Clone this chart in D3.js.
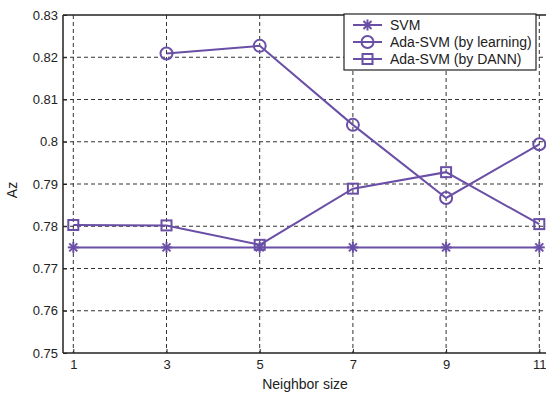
<!DOCTYPE html>
<html>
<head>
<meta charset="utf-8">
<script src="https://cdn.jsdelivr.net/npm/d3@7"></script>
<style>
  body { margin: 0; background: #fff; }
  svg { display: block; font-family: "Liberation Sans", Arial, sans-serif; }
</style>
</head>
<body>
<svg id="chart" width="546" height="397"></svg>
<script>
const neighborSizes = [1, 3, 5, 7, 9, 11];
const yTicks = [0.75, 0.76, 0.77, 0.78, 0.79, 0.8, 0.81, 0.82, 0.83];
const svmValues = [0.775, 0.775, 0.775, 0.775, 0.775, 0.775];
const learningValues = [null, 0.8209, 0.8227, 0.804, 0.7867, 0.7994];
const dannValues = [0.7803, 0.7802, 0.7756, 0.7889, 0.7928, 0.7805];
const seriesNames = ['SVM', 'Ada-SVM (by learning)', 'Ada-SVM (by DANN)'];

const color = '#6a4fa6';
const svg = d3.select('#chart');
const plotLeft = 63, plotRight = 546, plotTop = 15, plotBottom = 353;

const x = d3.scaleLinear().domain([1, 11]).range([73.3, 539.3]);
const y = d3.scaleLinear().domain([0.75, 0.83]).range([plotBottom, plotTop]);

// grid
const grid = svg.append('g').attr('stroke', '#333').attr('stroke-width', 1).attr('stroke-dasharray', '4,3');
grid.selectAll('.vg').data(neighborSizes).join('line')
  .attr('x1', d => x(d)).attr('x2', d => x(d)).attr('y1', plotTop).attr('y2', plotBottom);
grid.selectAll('.hg').data(yTicks.slice(1, -1)).join('line')
  .attr('x1', plotLeft).attr('x2', plotRight).attr('y1', d => y(d)).attr('y2', d => y(d));

// axes
const yAxis = svg.append('g').attr('transform', `translate(${plotLeft},0)`)
  .call(d3.axisLeft(y).tickValues(yTicks).tickSize(-4).tickPadding(5).tickFormat(d => String(+d.toFixed(2))));
const xAxis = svg.append('g').attr('transform', `translate(0,${plotBottom})`)
  .call(d3.axisBottom(x).tickValues(neighborSizes).tickSize(-4).tickPadding(7));
[yAxis, xAxis].forEach(a => {
  a.select('.domain').remove();
  a.selectAll('line').attr('stroke', '#222');
  a.selectAll('text').attr('font-size', 13).attr('fill', '#222')
    .attr('font-family', '"Liberation Sans", Arial, sans-serif');
});
svg.append('line').attr('x1', plotLeft).attr('x2', plotLeft).attr('y1', plotTop).attr('y2', plotBottom).attr('stroke', '#222').attr('stroke-width', 1.5);
svg.append('line').attr('x1', plotLeft).attr('x2', plotRight).attr('y1', plotBottom).attr('y2', plotBottom).attr('stroke', '#222').attr('stroke-width', 1.5);
svg.append('line').attr('x1', plotLeft).attr('x2', plotRight).attr('y1', plotTop).attr('y2', plotTop).attr('stroke', '#222').attr('stroke-width', 1.5);

svg.append('text').attr('x', 305).attr('y', 389).attr('text-anchor', 'middle')
  .attr('font-size', 14).attr('fill', '#222').text('Neighbor size');
svg.append('text').attr('transform', 'translate(17,190) rotate(-90)').attr('text-anchor', 'middle')
  .attr('font-size', 14).attr('fill', '#222').text('Az');

// markers
function star(g, cx, cy) {
  const r = 5.5;
  const p = g.append('g').attr('stroke', color).attr('stroke-width', 2);
  p.append('line').attr('x1', cx - r).attr('x2', cx + r).attr('y1', cy).attr('y2', cy);
  p.append('line').attr('x1', cx).attr('x2', cx).attr('y1', cy - r).attr('y2', cy + r);
  p.append('line').attr('x1', cx - 4).attr('x2', cx + 4).attr('y1', cy - 4).attr('y2', cy + 4);
  p.append('line').attr('x1', cx - 4).attr('x2', cx + 4).attr('y1', cy + 4).attr('y2', cy - 4);
}
function circle(g, cx, cy) {
  g.append('circle').attr('cx', cx).attr('cy', cy).attr('r', 6)
    .attr('fill', 'none').attr('stroke', color).attr('stroke-width', 2);
}
function square(g, cx, cy) {
  g.append('rect').attr('x', cx - 5).attr('y', cy - 5).attr('width', 10).attr('height', 10)
    .attr('fill', 'none').attr('stroke', color).attr('stroke-width', 2);
}
const markers = [star, circle, square];
const allSeries = [svmValues, learningValues, dannValues];

const line = d3.line().defined(d => d[1] !== null).x(d => x(d[0])).y(d => y(d[1]));
const plot = svg.append('g');
allSeries.forEach((vals, i) => {
  const pts = neighborSizes.map((n, j) => [n, vals[j]]);
  plot.append('path').datum(pts).attr('d', line)
    .attr('fill', 'none').attr('stroke', color).attr('stroke-width', 2);
  pts.filter(p => p[1] !== null).forEach(p => markers[i](plot, x(p[0]), y(p[1])));
});

// legend
const lg = svg.append('g');
lg.append('rect').attr('x', 344).attr('y', 14).attr('width', 192).attr('height', 56)
  .attr('fill', '#fff').attr('stroke', '#222').attr('stroke-width', 1.2);
seriesNames.forEach((name, i) => {
  const ly = 25 + i * 17;
  lg.append('line').attr('x1', 353).attr('x2', 382).attr('y1', ly).attr('y2', ly)
    .attr('stroke', color).attr('stroke-width', 2);
  markers[i](lg, 367.5, ly);
  lg.append('text').attr('x', 390).attr('y', ly + 5).attr('font-size', 14)
    .attr('fill', '#222').text(name);
});
</script>
</body>
</html>
